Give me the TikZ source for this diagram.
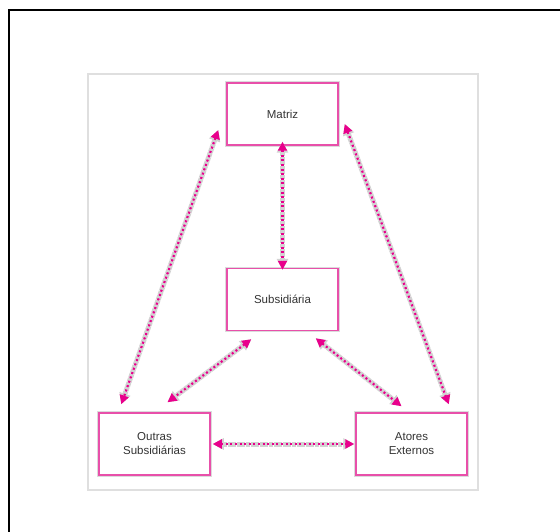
\documentclass[tikz,border=0pt]{standalone}
\usepackage{fontspec}
\setmainfont{Liberation Sans}
\usetikzlibrary{arrows.meta}
\definecolor{mag}{RGB}{232,0,140}
\definecolor{boxpink}{RGB}{232,80,170}
\tikzset{
  box/.style={preaction={draw=gray!28, line width=3.5pt}, draw=boxpink, line width=1.5pt, fill=white,
    minimum width=111pt, minimum height=62pt, inner sep=2pt, align=center,
    font=\fontsize{11.5}{14}\selectfont, text=black!80},
  link/.style={preaction={draw=gray!35, line width=5pt, dash pattern=on 4pt off 0.6pt,
      {Triangle[length=11pt,width=11pt]}-{Triangle[length=11pt,width=11pt]}},
    draw=mag, line width=2.2pt, dash pattern=on 2pt off 2.6pt,
    {Triangle[length=9pt,width=9pt]}-{Triangle[length=9pt,width=9pt]}}
}
\begin{document}
\begin{tikzpicture}[x=1pt,y=-1pt]
\useasboundingbox (0,0) rectangle (560,532);
\draw[line width=2pt] (9,532) -- (9,10) -- (560,10);
\draw[gray!25, line width=2pt] (88,74) rectangle (478,490);
\node[box] (m) at (282.5,114) {Matriz};
\node[box] (s) at (282.5,299.5) {Subsidiária};
\node[box] (o) at (154.5,444) {Outras\\Subsidiárias};
\node[box] (a) at (411.5,444) {Atores\\Externos};
\draw[link] ([yshift=4pt]m.south) -- ([yshift=-2pt]s.north);
\draw[link] ([shift={(-8,16)}]m.west) -- ([shift={(23,-8)}]o.north west);
\draw[link] ([shift={(6,10)}]m.east) -- ([shift={(-19,-8)}]a.north east);
\draw[link] ([shift={(25,8)}]s.south west) -- ([shift={(13,-10)}]o.north);
\draw[link] ([shift={(-23,7)}]s.south east) -- ([shift={(-10,-6)}]a.north);
\draw[link] ([xshift=2pt]o.east) -- ([xshift=-1pt]a.west);
\end{tikzpicture}
\end{document}
